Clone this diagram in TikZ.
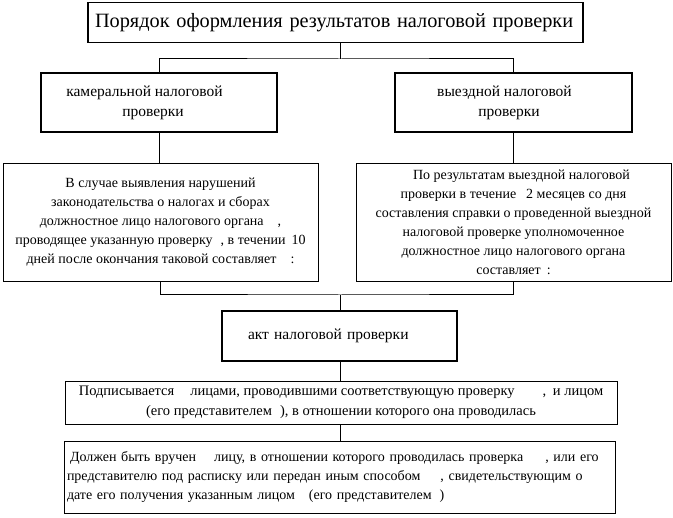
\documentclass[tikz,border=0pt]{standalone}
\usepackage{fontspec}
\setmainfont{Liberation Serif}
\tikzset{mainbox/.style={draw, line width=1.6pt, inner sep=0pt, align=center,
           font=\fontsize{15.5}{20}\selectfont}}
\tikzset{textbox/.style={draw, line width=0.9pt, inner sep=0pt, align=center,
           font=\fontsize{14}{19}\selectfont}}
\tikzset{link/.style={line width=1pt}}

\begin{document}
\begin{tikzpicture}[x=1pt, y=-1pt]
    \useasboundingbox (0,0) rectangle (673,518);
    % title
    \node[mainbox, minimum width=495pt, minimum height=40pt, text width=481pt,
          inner xsep=7pt, align=left, font=\fontsize{20.3}{24}\selectfont]
      (title) at (335.5,22.5) {Порядок оформления результатов налоговой проверки};
    % two kinds of check
    \node[mainbox, minimum width=236pt, minimum height=59pt]
      (kam) at (159,102.5) {камеральной налоговой\hspace*{29pt}\\проверки\hspace*{12pt}};
    \node[mainbox, minimum width=237pt, minimum height=59pt]
      (vyezd) at (513.5,102.5) {выездной налоговой\hspace*{18pt}\\проверки\hspace*{9pt}};
    % what each one says
    \node[textbox, minimum width=315pt, minimum height=118pt] (kamtxt) at (160.5,222)
      {В случае выявления нарушений\\
       законодательства о налогах и сборах\hspace*{14pt}\\
       должностное лицо налогового органа\hspace{14pt},\\
       проводящее указанную проверку\hspace{8pt}, в течении\hspace{6pt}10\\
       дней после окончания таковой составляет\hspace{14pt}:};
    \node[textbox, minimum width=315pt, minimum height=118pt] (vyeztxt) at (513.5,222)
      {\hspace*{16pt}По результатам выездной налоговой\\
       проверки в течение\hspace{10pt}2 месяцев со дня\\
       составления справки о проведенной выездной\\
       налоговой проверке уполномоченное\\
       должностное лицо налогового органа\hspace*{14pt}\\
       составляет\hspace{6pt}:};
    % the act
    \node[mainbox, minimum width=235pt, minimum height=50pt, text width=183pt,
          inner xsep=26pt, align=left] (akt) at (339.5,336) {акт налоговой проверки};
    \node[textbox, minimum width=552pt, minimum height=43pt,
          font=\fontsize{14.5}{20}\selectfont] (sign) at (341,402.5)
      {Подписывается\hspace{16pt}лицами, проводившими соответствующую проверку\hspace{28pt},
       \hspace{3pt}и лицом\\
       (его представителем\hspace{8pt}), в отношении которого она проводилась};
    \node[textbox, minimum width=551pt, minimum height=72pt, text width=545pt,
          inner xsep=3pt, align=left] (hand) at (339.5,477)
      {\hspace*{3pt}Должен быть вручен\hspace{18pt}лицу, в отношении которого проводилась проверка\hspace{22pt}, или его\\
       представителю под расписку или передан иным способом\hspace{20pt}, свидетельствующим о\\
       дате его получения указанным лицом\hspace{14pt}(его представителем\hspace{8pt})};

    % connectors
    \coordinate (split) at (340,59);
    \coordinate (join) at (340,295);
    \draw[link] (split |- title.south) -- (split);
    \draw[link] (kam.north) |- (split) -| (vyezd.north);
    \draw[link] (kam.south) -- (kam.south |- kamtxt.north);
    \draw[link] (vyezd.south) -- (vyezd.south |- vyeztxt.north);
    \draw[link] (kamtxt.south) |- (join) -| (vyeztxt.south);
    \draw[link] (join) -- (join |- akt.north);
    \draw[link] (akt.south -| join) -- (join |- sign.north);
    \draw[link] (sign.south -| join) -- (join |- hand.north);
\end{tikzpicture}
\end{document}
